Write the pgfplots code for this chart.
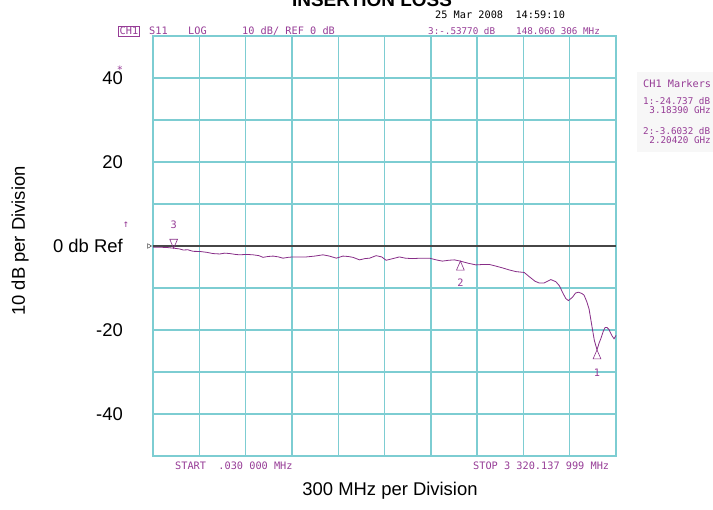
\documentclass[border=0pt]{standalone}
\usepackage{pgfplots}
\pgfplotsset{compat=1.18}
\usepackage{fontspec}
\setmainfont{Liberation Sans}
\newfontfamily\monof{DejaVu Sans Mono}
\definecolor{gridc}{RGB}{125,205,210}
\definecolor{tpurple}{RGB}{135,45,135}
\definecolor{txtpurple}{RGB}{150,60,150}
\definecolor{refgray}{RGB}{70,70,70}
\newcommand{\mono}{\monof\fontsize{10.3}{11}\selectfont}
\newcommand{\monos}{\monof\fontsize{9.3}{10}\selectfont}
\newcommand{\bigf}{\fontsize{18.5}{20}\selectfont}
\begin{document}
\begin{tikzpicture}
\begin{axis}[
  at={(0,0)}, anchor=south west,
  scale only axis, width=463bp, height=420bp,
  xmin=0, xmax=3320.138, ymin=-50, ymax=50,
  xtick={332.01,664.03,996.04,1328.06,1660.07,1992.08,2324.10,2656.11,2988.12},
  xticklabels={},
  ytick={-50,-40,-30,-20,-10,0,10,20,30,40,50},
  yticklabels={{},{-40},{},{-20},{},{0 db Ref},{},{20},{},{40},{}},
  major tick length=0pt,
  grid=major,
  grid style={gridc, line width=1.4bp},
  axis line style={gridc, line width=1.4bp},
  yticklabel style={font=\bigf, inner sep=0pt, anchor=east, xshift=-30bp},
  clip=false,
]
% reference line (0 dB)
\addplot[refgray, line width=1.1bp] coordinates {(0,0) (3320.138,0)};
% reference position indicator
\addplot[refgray, only marks, mark=triangle, mark size=2.6bp,
  mark options={xshift=-4bp, rotate=-90, line width=0.5bp}] coordinates {(0,0)};
% S11 trace
\addplot[tpurple, line width=0.8bp] coordinates {
(0.03,-0.3) (50,-0.3) (98,-0.35) (157,-0.55) (190,-0.7) (217,-0.95) (250,-0.9)
(288,-1.27) (336,-1.3) (384,-1.5) (430,-1.8) (479,-1.9) (515,-1.7) (551,-1.8)
(590,-2.0) (622,-2.1) (670,-2.0) (718,-2.1) (760,-2.3) (789,-2.7) (825,-2.5)
(861,-2.4) (900,-2.6) (932,-2.9) (970,-2.7) (1004,-2.6) (1050,-2.6) (1100,-2.6)
(1160,-2.4) (1219,-2.1) (1265,-2.4) (1315,-2.9) (1362,-2.4) (1400,-2.5) (1434,-2.7)
(1481,-3.3) (1520,-3.0) (1553,-2.9) (1600,-2.3) (1640,-2.6) (1672,-3.4) (1720,-3.0)
(1767,-2.6) (1810,-2.9) (1860,-3.0) (1920,-2.9) (1982,-2.9) (2030,-3.3) (2075,-3.6)
(2120,-3.4) (2161,-3.3) (2204,-3.6) (2260,-4.1) (2316,-4.5) (2365,-4.4) (2412,-4.4)
(2460,-4.8) (2505,-5.2) (2555,-5.7) (2603,-6.1) (2662,-6.3) (2698,-7.3) (2740,-8.4)
(2769,-8.8) (2805,-8.8) (2853,-8.0) (2889,-8.5) (2915,-9.5) (2936,-11.0) (2960,-12.5)
(2979,-13.0) (3008,-12.2) (3030,-11.2) (3051,-11.0) (3075,-11.3) (3091,-11.7)
(3110,-13.2) (3127,-15) (3151,-19.8) (3165,-22.5) (3184,-24.7) (3200,-23.0)
(3211,-22.1) (3230,-20.2) (3242,-19.4) (3256,-19.4) (3270,-19.9) (3290,-21.3)
(3306,-22.1) (3320,-21.3)
};
% marker 3
\addplot[tpurple, only marks, mark=triangle, mark size=6bp,
  mark options={yshift=6bp, rotate=180, xscale=0.75, line width=0.6bp},
  nodes near coords={3},
  every node near coord/.style={font=\mono, text=txtpurple, anchor=center, yshift=17bp}]
  coordinates {(148.06,-0.5377)};
% marker 2
\addplot[tpurple, only marks, mark=triangle, mark size=6bp,
  mark options={yshift=-6bp, xscale=0.75, line width=0.6bp},
  nodes near coords={2},
  every node near coord/.style={font=\mono, text=txtpurple, anchor=center, yshift=-15.5bp}]
  coordinates {(2204.2,-3.6032)};
% marker 1
\addplot[tpurple, only marks, mark=triangle, mark size=6bp,
  mark options={yshift=-6bp, xscale=0.75, line width=0.6bp},
  nodes near coords={1},
  every node near coord/.style={font=\mono, text=txtpurple, anchor=center, yshift=-16.5bp}]
  coordinates {(3183.9,-24.737)};
\end{axis}
% annotations (analyzer screen text)
\fill[black!3] (484bp,304bp) rectangle (560bp,384bp);
\node[draw=txtpurple, line width=0.6bp, inner sep=1bp, text=txtpurple, font=\mono] at (-24bp,425bp) {CH1};
\node[anchor=west, inner sep=0, text=txtpurple, font=\mono] at (-4bp,425bp) {S11};
\node[anchor=west, inner sep=0, text=txtpurple, font=\mono] at (35bp,425bp) {LOG};
\node[anchor=west, inner sep=0, text=txtpurple, font=\mono] at (89bp,425bp) {10 dB/ REF 0 dB};
\node[anchor=west, inner sep=0, text=txtpurple, font=\monos] at (275bp,425bp) {3:-.53770 dB};
\node[anchor=west, inner sep=0, text=txtpurple, font=\monos] at (363bp,425bp) {148.060 306 MHz};
\node[anchor=west, inner sep=0, text=black, font=\mono] at (282bp,441bp) {25 Mar 2008\ \ 14:59:10};
\node[anchor=west, inner sep=0, text=txtpurple, font=\mono] at (490bp,372bp) {CH1 Markers};
\node[anchor=west, inner sep=0, text=txtpurple, font=\monos] at (490bp,355bp) {1:-24.737 dB};
\node[anchor=east, inner sep=0, text=txtpurple, font=\monos] at (558bp,346bp) {3.18390 GHz};
\node[anchor=west, inner sep=0, text=txtpurple, font=\monos] at (490bp,325bp) {2:-3.6032 dB};
\node[anchor=east, inner sep=0, text=txtpurple, font=\monos] at (558bp,316bp) {2.20420 GHz};
\node[anchor=west, inner sep=0, text=txtpurple, font=\mono] at (22bp,-10bp) {START\ \ .030 000 MHz};
\node[anchor=west, inner sep=0, text=txtpurple, font=\mono] at (320bp,-10bp) {STOP 3 320.137 999 MHz};
\node[inner sep=0, text=txtpurple, font=\mono] at (-33bp,386bp) {*};
\node[inner sep=0, text=txtpurple, font=\mono] at (-27bp,231bp) {↑};
% titles and axis labels
\node[anchor=base, inner sep=0, font=\bfseries\fontsize{19}{20}\selectfont] at (219bp,449bp) {INSERTION LOSS};
\node[inner sep=0, font=\bigf] at (237bp,-35bp) {300 MHz per Division};
\node[inner sep=0, font=\bigf, rotate=90] at (-133bp,215bp) {10 dB per Division};
\pgfresetboundingbox
\useasboundingbox (-153bp,-54bp) rectangle (560bp,456bp);
\end{tikzpicture}
\end{document}
